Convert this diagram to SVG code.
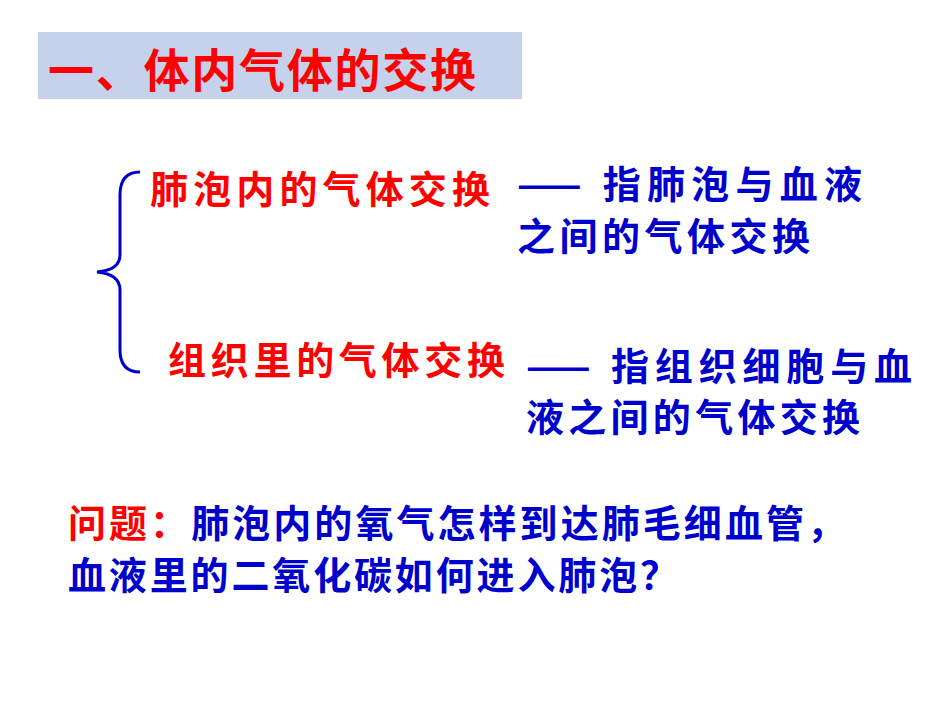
<svg xmlns="http://www.w3.org/2000/svg" width="950" height="713" viewBox="0 0 950 713">
<style>
text{font-family:"Noto Sans CJK SC","Liberation Sans",sans-serif;font-weight:bold;font-size:38px}
.r{fill:#ff0000}.b{fill:#0000cc}
</style>
<rect width="950" height="713" fill="#fff"/>
<g id="title"><rect x="38" y="32" width="484" height="67" fill="#c6d2ec"/>
<text class="r" x="48" y="87" style="font-size:46px" textLength="428">一、体内气体的交换</text></g>
<g id="connectors"><path d="M140,172 Q120,172 120,195 L120,255 Q120,270 97,272 Q120,274 120,290 L120,350 Q120,372 140,372" fill="none" stroke="#0000cc" stroke-width="3"/></g>
<g id="n1"><text class="r" x="150" y="203" textLength="340">肺泡内的气体交换</text>
<text class="b" x="517" y="198" textLength="345">—— 指肺泡与血液</text>
<text class="b" x="517" y="250" textLength="293">之间的气体交换</text></g>
<g id="n2"><text class="r" x="168" y="374" textLength="337">组织里的气体交换</text>
<text class="b" x="526" y="380" textLength="386">—— 指组织细胞与血</text>
<text class="b" x="526" y="431" textLength="334">液之间的气体交换</text></g>
<g id="q"><text x="68" y="537" textLength="777"><tspan class="r">问题：</tspan><tspan class="b">肺泡内的氧气怎样到达肺毛细血管，</tspan></text>
<text class="b" x="68" y="589" textLength="610">血液里的二氧化碳如何进入肺泡？</text></g>
</svg>
